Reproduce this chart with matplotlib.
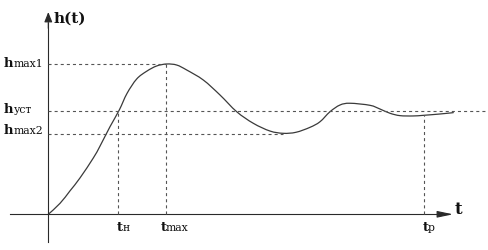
import matplotlib
matplotlib.use('Agg')
import matplotlib.pyplot as plt
from matplotlib.path import Path
from matplotlib.patches import PathPatch
import numpy as np

plt.rcParams['font.family'] = ['DejaVu Serif']
plt.rcParams['lines.scale_dashes'] = False

# ---- data ----
t = [0.00, 1.17, 2.17, 3.17, 4.50, 5.17, 6.17, 7.10, 7.87, 8.84, 9.84, 10.84,
     11.84, 12.84, 13.84, 15.50, 17.17, 18.84, 20.50, 22.17, 23.50, 24.77,
     26.17, 27.17, 28.17, 29.17, 30.17, 32.17, 33.17, 34.17, 35.17, 36.47,
     37.50, 39.17, 40.50]
h = [0.000, 0.106, 0.227, 0.352, 0.545, 0.660, 0.848, 1.010, 1.170, 1.310,
     1.385, 1.436, 1.455, 1.445, 1.397, 1.300, 1.155, 0.993, 0.881, 0.806,
     0.784, 0.794, 0.842, 0.896, 0.993, 1.058, 1.075, 1.055, 1.019, 0.978,
     0.955, 0.952, 0.958, 0.971, 0.984]

h_max1 = 1.455
h_ust = 1.0
h_max2 = 0.782
t_n = 7.02
t_max = 11.8
t_p = 37.57
t_min2 = 23.5

h_labels = [('h', 'max1', h_max1), ('h', 'уст', h_ust), ('h', 'max2', h_max2)]


def smooth_path(xs, ys):
    """Catmull-Rom curve through the given points, as cubic Bezier segments."""
    p = np.column_stack([xs, ys]).astype(float)
    verts = [p[0]]
    codes = [Path.MOVETO]
    n = len(p)
    for i in range(n - 1):
        p0 = p[i - 1] if i > 0 else p[i]
        p1 = p[i]
        p2 = p[i + 1]
        p3 = p[i + 2] if i + 2 < n else p[i + 1]
        c1 = p1 + (p2 - p0) / 6.0
        c2 = p2 - (p3 - p1) / 6.0
        verts += [c1, c2, p2]
        codes += [Path.CURVE4] * 3
    return Path(verts, codes)


# ---- figure ----
fig = plt.figure(figsize=(4.89, 2.50), dpi=100)
ax = fig.add_axes([0, 0, 1, 1])
ax.set_xlim(-4.83, 44.07)
ax.set_ylim(-0.3456, 2.0745)
ax.axis('off')

axc = '#2a2a2a'
dc = '#555555'
txt = '#111111'

# axes with arrows
ax.plot([-3.83, 40.0], [0, 0], color=axc, lw=0.8)
ax.plot([0, 0], [-0.268, 1.85], color=axc, lw=0.8)
ax.annotate('', xy=(40.47, 0), xytext=(39.0, 0),
            arrowprops=dict(arrowstyle='-|>,head_length=0.95,head_width=0.2',
                            lw=0.8, color=axc, shrinkA=0, shrinkB=0))
ax.annotate('', xy=(0, 1.958), xytext=(0, 1.80),
            arrowprops=dict(arrowstyle='-|>,head_length=0.6,head_width=0.24',
                            lw=0.8, color=axc, shrinkA=0, shrinkB=0))

# dashed guide lines
dkw = dict(color=dc, lw=0.8, dashes=(2.2, 2.2))
ax.plot([0, t_max], [h_max1, h_max1], **dkw)
ax.plot([0, 43.67], [h_ust, h_ust], **dkw)
ax.plot([0, t_min2], [h_max2, h_max2], **dkw)
ax.plot([t_n, t_n], [0, h_ust], **dkw)
ax.plot([t_max, t_max], [0, h_max1], **dkw)
ax.plot([t_p, t_p], [0, 0.958], **dkw)

# curve
ax.add_patch(PathPatch(smooth_path(t, h), facecolor='none', edgecolor='#3a3a3a',
                       lw=0.9, capstyle='round'))

# left labels
y_off = {h_max1: -2.5, h_ust: -1.7, h_max2: -0.4}
for main, sub, val in h_labels:
    ax.annotate(main, xy=(0, val), xytext=(-31.9, y_off[val]), textcoords='offset points',
                ha='left', va='baseline', fontsize=9.5, fontweight='bold', color=txt)
    ax.annotate(sub, xy=(0, val), xytext=(-24.9, y_off[val]), textcoords='offset points',
                ha='left', va='baseline', fontsize=7.8, color=txt)

# bottom labels
t_labels = [('н', t_n, -1.1, 2.9), ('max', t_max, -4.3, -0.6), ('р', t_p, -1.2, 2.3)]
for sub, val, dx_main, dx_sub in t_labels:
    ax.annotate('t', xy=(val, 0), xytext=(dx_main, -11.7), textcoords='offset points',
                ha='left', va='baseline', fontsize=9.5, fontweight='bold', color=txt)
    ax.annotate(sub, xy=(val, 0), xytext=(dx_sub, -11.7), textcoords='offset points',
                ha='left', va='baseline', fontsize=7.8, color=txt)

# axis titles
ax.annotate('h(t)', xy=(0, 1.958), xytext=(3.7, -7.6), textcoords='offset points',
            ha='left', va='baseline', fontsize=11, fontweight='bold', color=txt)
ax.annotate('t', xy=(40.47, 0), xytext=(1.3, 0), textcoords='offset points',
            ha='left', va='baseline', fontsize=12, fontweight='bold', color=txt)

fig.savefig('out.png', dpi=100, facecolor='white')
